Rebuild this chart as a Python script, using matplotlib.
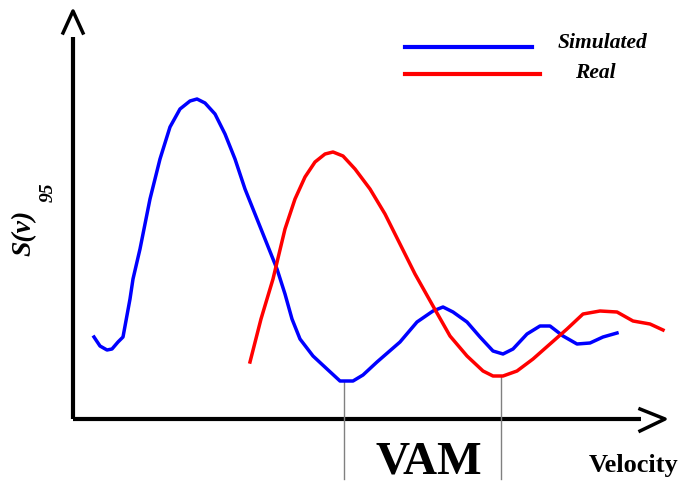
import matplotlib.pyplot as plt

# courbes (vitesse, S(v)_95), unités arbitraires
sim_v = [21, 27, 34, 39, 45, 50, 57, 60, 67, 77, 87, 97, 107, 117, 124, 132, 142,
         152, 162, 172, 182, 192, 204, 212, 219, 227, 240, 254, 267, 280, 290, 304,
         327, 344, 360, 370, 380, 394, 407, 420, 430, 440, 454, 467, 477, 490, 504,
         517, 530, 544]
sim_s = [82, 73, 69, 70, 77, 82, 120, 140, 170, 220, 260, 292, 310, 318, 320, 316,
         305, 285, 260, 230, 205, 180, 150, 125, 100, 80, 63, 50, 38, 38, 44, 57,
         77, 97, 108, 112, 107, 97, 82, 68, 65, 70, 85, 93, 93, 83, 75, 76, 82, 86]
real_v = [177, 188, 200, 212, 222, 232, 242, 252, 260, 270, 282, 297, 312, 327, 342,
          360, 377, 394, 410, 420, 430, 444, 460, 477, 494, 510, 527, 544, 560,
          577, 590]
real_s = [57, 100, 140, 190, 220, 242, 257, 265, 267, 263, 250, 230, 205, 175, 145,
          113, 83, 63, 48, 43, 43, 48, 60, 75, 90, 105, 108, 107, 98, 95, 89]
vam_v = [271, 428]
vam_top = [38, 42]

fig = plt.figure(figsize=(6.92, 4.85), dpi=100)
ax = fig.add_axes([0, 0, 1, 1])
ax.set_xlim(-73, 619)
ax.set_ylim(-65, 420)
ax.axis('off')

# axes avec flèches
ax.plot([0, 0], [0, 382], color='black', lw=3, solid_capstyle='butt')
ax.plot([-10, 0, 10], [386, 408, 386], color='black', lw=2.5)
ax.plot([0, 568], [0, 0], color='black', lw=3, solid_capstyle='butt')
ax.plot([567, 592, 567], [10, 0, -12], color='black', lw=2.5)

# lignes VAM
for v, top in zip(vam_v, vam_top):
    ax.plot([v, v], [-60, top], color='gray', lw=1)

ax.plot(sim_v, sim_s, color='blue', lw=2.5)
ax.plot(real_v, real_s, color='red', lw=2.5)

# légende
ax.plot([332, 459], [372, 372], color='blue', lw=3)
ax.plot([332, 467], [345, 345], color='red', lw=3)
ax.text(485, 377, 'Simulated', family='Liberation Serif', style='italic',
        weight='bold', fontsize=15.5, va='center')
ax.text(502, 347, 'Real', family='Liberation Serif', style='italic',
        weight='bold', fontsize=15.5, va='center')

ax.text(-49, 187, 'S(v)', family='Liberation Serif', style='italic',
        weight='bold', fontsize=20, rotation=90, ha='center', va='center')
ax.text(-25, 228, '95', family='Liberation Serif', style='italic',
        weight='bold', fontsize=14, rotation=90, ha='center', va='center')

ax.text(356, -54, 'VAM', family='Liberation Serif', weight='bold',
        fontsize=34, ha='center', va='baseline')
ax.text(561, -52, 'Velocity', family='Liberation Serif', weight='bold',
        fontsize=19, ha='center', va='baseline')

fig.savefig('out.png', dpi=100)
